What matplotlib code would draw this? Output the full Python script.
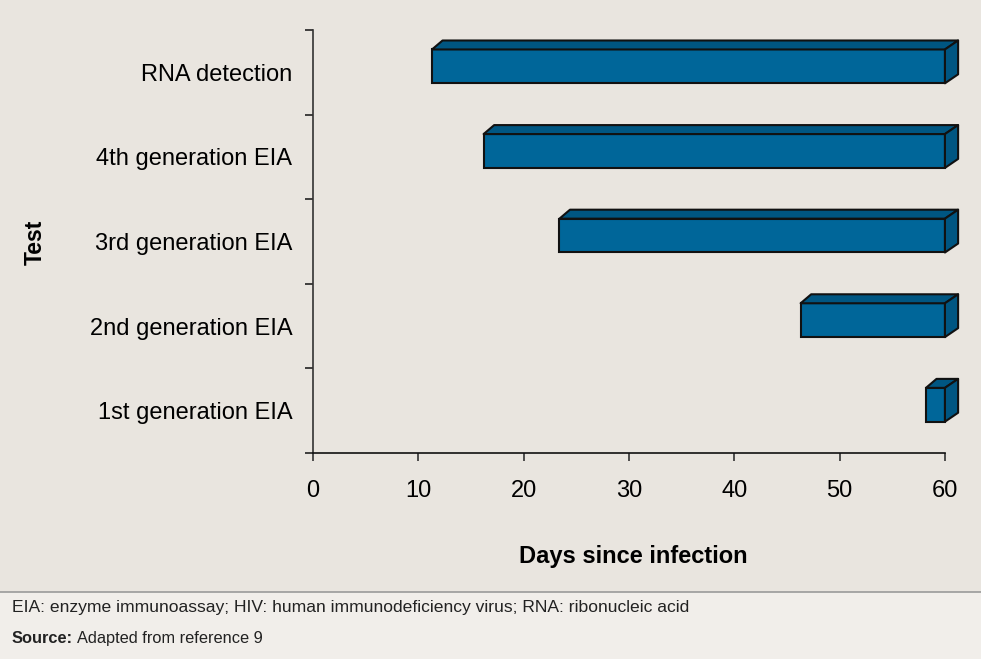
import matplotlib
matplotlib.use("Agg")
import matplotlib.pyplot as plt
from matplotlib.patches import Polygon, Rectangle
from matplotlib.lines import Line2D

plt.rcParams['font.family'] = ['Liberation Sans', 'DejaVu Sans']

# data (bottom to top)
tests = ['1st generation EIA', '2nd generation EIA', '3rd generation EIA',
         '4th generation EIA', 'RNA detection']
start_day = [58.2, 46.3, 23.4, 16.2, 11.3]
end_day = [60, 60, 60, 60, 60]
x_ticks = [0, 10, 20, 30, 40, 50, 60]

bg = '#e9e5df'
front = '#006699'
dark = '#005682'

fig = plt.figure(figsize=(9.81, 6.59), dpi=100)
fig.patch.set_facecolor(bg)

# footer band
fig.patches.append(Rectangle((0, 0), 1, (659 - 592) / 659, transform=fig.transFigure,
                             facecolor='#f1eeea', edgecolor='none', zorder=0))
fig.lines.append(Line2D([0, 1], [(659 - 592) / 659] * 2, transform=fig.transFigure,
                        color='#9a9a9a', lw=1.2))

ax = fig.add_axes([313 / 981, (659 - 453) / 659, (966 - 313) / 981, (453 - 30) / 659])
ax.set_facecolor(bg)
ax.set_xlim(0, 62)
ax.set_ylim(-0.5, 4.5)

h = 0.40
off = 0.07
dxl, dxr, dy = 1.0, 1.25, 0.106
for i, (s, e) in enumerate(zip(start_day, end_day)):
    yb = i + off - h / 2
    yt = yb + h
    ax.barh(i + off, e - s, left=s, height=h, color=front, edgecolor='#111111',
            linewidth=1.5, zorder=3, clip_on=False)
    top = Polygon([(s, yt), (s + dxl, yt + dy), (e + dxr, yt + dy), (e, yt)],
                  closed=True, facecolor=dark, edgecolor='#111111', lw=1.5,
                  zorder=3, clip_on=False, joinstyle='round')
    side = Polygon([(e, yb), (e + dxr, yb + dy), (e + dxr, yt + dy), (e, yt)],
                   closed=True, facecolor=dark, edgecolor='#111111', lw=1.5,
                   zorder=3, clip_on=False, joinstyle='round')
    ax.add_patch(top)
    ax.add_patch(side)

for sp in ['top', 'right']:
    ax.spines[sp].set_visible(False)
ax.spines['bottom'].set_bounds(0, 60)
ax.spines['left'].set_color('#333333')
ax.spines['bottom'].set_color('#111111')
ax.spines['left'].set_linewidth(1.2)
ax.spines['bottom'].set_linewidth(1.2)

ax.set_xticks(x_ticks)
ax.tick_params(axis='x', length=5.5, width=1.2, color='#333333', labelsize=17, pad=14)
ax.set_yticks(range(len(tests)))
ax.set_yticklabels(tests)
ax.set_yticks([i - 0.5 for i in range(len(tests) + 1)], minor=True)
ax.tick_params(axis='y', which='major', length=0, labelsize=17, pad=15)
ax.tick_params(axis='y', which='minor', length=6, width=1.2, color='#222222')

fig.text(35 / 981, 1 - 242 / 659, 'Test', rotation=90, ha='center', va='center',
         fontsize=16.5, fontweight='bold')
fig.text(633 / 981, 1 - 556 / 659, 'Days since infection', ha='center', va='center',
         fontsize=17, fontweight='bold')

fig.text(12 / 981, 1 - 612 / 659,
         'EIA: enzyme immunoassay; HIV: human immunodeficiency virus; RNA: ribonucleic acid',
         ha='left', va='baseline', fontsize=12.6, color='#222222')
src = fig.text(12 / 981, 1 - 643 / 659, 'Source:', ha='left', va='baseline',
               fontsize=11.8, fontweight='bold', color='#222222')
fig.canvas.draw()
bb = src.get_window_extent()
fig.text((bb.x1 + 4) / 981, 1 - 643 / 659, 'Adapted from reference 9', ha='left',
         va='baseline', fontsize=11.8, color='#222222')

fig.savefig('out.png', dpi=100, facecolor=bg)
